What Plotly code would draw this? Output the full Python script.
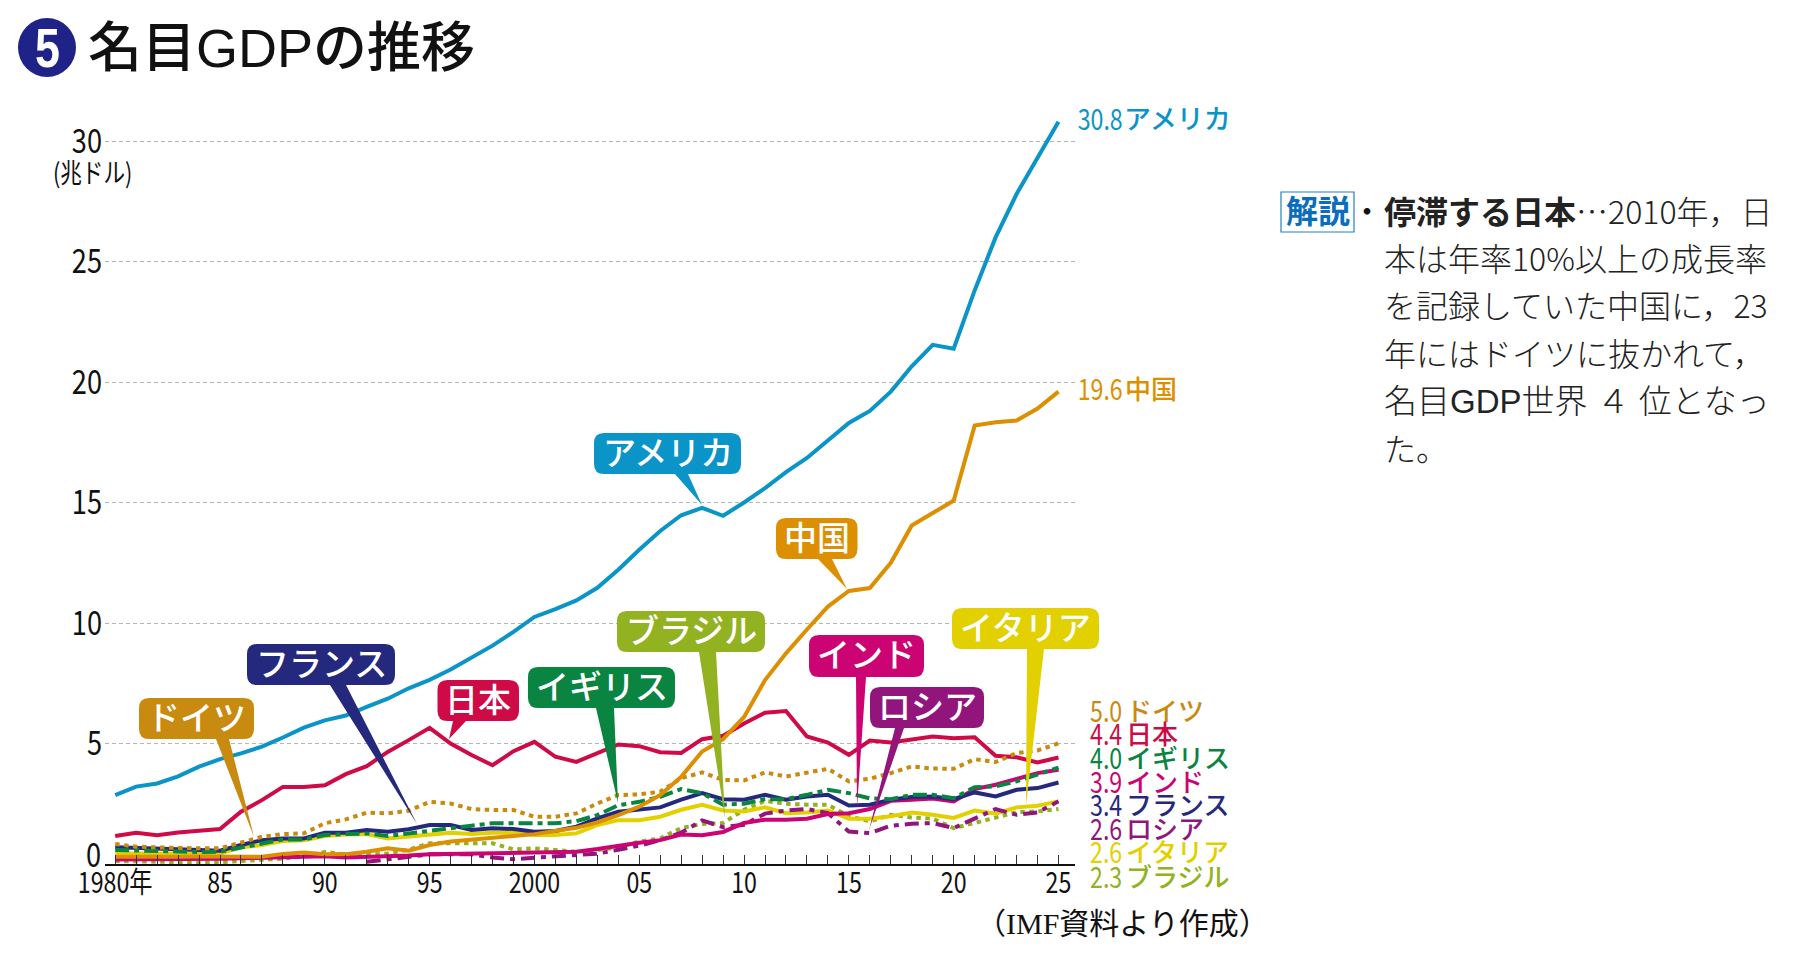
import plotly.graph_objects as go

W, H = 1804, 956
GOTHIC = "Noto Sans CJK JP"
LATIN_GOTHIC = "Liberation Sans, Noto Sans CJK JP"

years = list(range(1980, 2026))
major_labels = {1980: "1980年", 1985: "85", 1990: "90", 1995: "95", 2000: "2000", 2005: "05",
                2010: "10", 2015: "15", 2020: "20", 2025: "25"}
x_tick_labels = [major_labels.get(y, "") for y in years]
y_ticks = [5, 10, 15, 20, 25, 30]

usa = [2.86, 3.21, 3.34, 3.64, 4.04, 4.35, 4.59, 4.87, 5.25, 5.66,
       5.96, 6.16, 6.52, 6.86, 7.29, 7.64, 8.07, 8.58, 9.06, 9.63,
       10.25, 10.58, 10.94, 11.46, 12.21, 13.04, 13.82, 14.47, 14.78, 14.45,
       15.0, 15.6, 16.26, 16.85, 17.57, 18.3, 18.8, 19.6, 20.65, 21.54,
       21.38, 23.8, 26.0, 27.8, 29.3, 30.8]
china = [.30, .29, .29, .30, .31, .31, .28, .30, .42, .48,
         .40, .41, .51, .65, .55, .79, .93, 1.02, 1.09, 1.16,
         1.24, 1.38, 1.5, 1.73, 2.03, 2.38, 2.86, 3.62, 4.67, 5.18,
         6.1, 7.63, 8.74, 9.73, 10.68, 11.33, 11.45, 12.5, 14.05, 14.56,
         15.08, 18.19, 18.33, 18.4, 18.9, 19.6]
japan = [1.16, 1.30, 1.19, 1.31, 1.38, 1.45, 2.17, 2.65, 3.2, 3.2,
         3.27, 3.73, 4.06, 4.65, 5.14, 5.65, 5.0, 4.52, 4.10, 4.68,
         5.07, 4.45, 4.24, 4.59, 4.96, 4.89, 4.64, 4.61, 5.18, 5.32,
         5.83, 6.28, 6.35, 5.29, 5.04, 4.53, 5.12, 5.04, 5.18, 5.29,
         5.22, 5.26, 4.49, 4.43, 4.21, 4.42]
germany = [.83, .72, .69, .66, .65, .65, .88, 1.13, 1.24, 1.27,
           1.69, 1.85, 2.13, 2.1, 2.21, 2.58, 2.51, 2.28, 2.24, 2.24,
           1.96, 1.96, 2.1, 2.51, 2.86, 2.89, 3.0, 3.56, 3.8, 3.49,
           3.47, 3.8, 3.63, 3.77, 3.95, 3.43, 3.54, 3.77, 4.05, 3.96,
           3.95, 4.35, 4.23, 4.6, 4.71, 5.01]
uk = [.58, .55, .55, .52, .50, .51, .69, .88, 1.02, 1.02,
      1.2, 1.24, 1.27, 1.16, 1.27, 1.41, 1.48, 1.59, 1.69, 1.71,
      1.69, 1.69, 1.78, 2.03, 2.44, 2.58, 2.79, 3.11, 2.94, 2.46,
      2.5, 2.69, 2.69, 2.87, 3.08, 2.94, 2.72, 2.69, 2.87, 2.87,
      2.73, 3.19, 3.22, 3.43, 3.7, 4.0]
india = [.19, .19, .20, .20, .20, .22, .24, .27, .30, .30,
         .32, .27, .29, .30, .35, .40, .41, .44, .44, .47,
         .47, .47, .51, .62, .76, .88, .99, 1.22, 1.19, 1.33,
         1.70, 1.84, 1.84, 1.88, 2.07, 2.11, 2.28, 2.62, 2.67, 2.72,
         2.6, 3.11, 3.29, 3.54, 3.77, 3.91]
france = [.69, .65, .62, .61, .58, .55, .79, .99, 1.06, 1.06,
          1.30, 1.30, 1.41, 1.34, 1.44, 1.62, 1.62, 1.41, 1.48, 1.45,
          1.34, 1.37, 1.55, 1.89, 2.17, 2.28, 2.35, 2.67, 2.94, 2.69,
          2.67, 2.87, 2.67, 2.80, 2.87, 2.43, 2.46, 2.67, 2.78, 2.80,
          2.69, 2.97, 2.80, 3.08, 3.15, 3.38]
russia = [None] * 12 + [.09, .19, .30, .40, .40, .40, .27, .20,
          .26, .31, .35, .43, .59, .76, .99, 1.30, 1.81, 1.53,
          1.63, 2.09, 2.22, 2.28, 2.11, 1.35, 1.28, 1.59, 1.67, 1.70,
          1.49, 1.88, 2.28, 2.04, 2.14, 2.6]
italy = [.44, .43, .43, .44, .43, .44, .69, .79, .95, .99,
         1.16, 1.22, 1.24, 1.06, 1.15, 1.2, 1.3, 1.24, 1.3, 1.3,
         1.2, 1.2, 1.27, 1.62, 1.82, 1.82, 1.96, 2.25, 2.46, 2.22,
         2.18, 2.35, 2.11, 2.14, 2.22, 1.88, 1.88, 1.98, 2.14, 2.04,
         1.91, 2.22, 2.09, 2.35, 2.42, 2.6]
brazil = [.12, .10, .12, .06, .07, .08, .12, .16, .22, .32,
          .50, .40, .38, .44, .60, .86, .86, .88, .86, .61,
          .65, .58, .51, .58, .69, .93, 1.06, 1.49, 1.66, 1.70,
          2.25, 2.62, 2.5, 2.46, 2.46, 1.98, 1.77, 2.04, 1.93, 1.88,
          1.49, 1.70, 1.91, 2.15, 2.18, 2.28]

C = dict(usa="#0a94c8", china="#dc8f00", japan="#cf0b47", germany="#c98a10",
         uk="#0a8441", india="#cc0473", france="#25297e", russia="#92157c",
         italy="#e3d000", brazil="#92b222")

DOT = "4.5px,4.5px"
series = [
    ("ブラジル", brazil, C["brazil"], DOT),
    ("イタリア", italy, C["italy"], "solid"),
    ("ロシア", russia, C["russia"], "14px,6px,5px,6px"),
    ("インド", india, C["india"], "solid"),
    ("フランス", france, C["france"], "solid"),
    ("イギリス", uk, C["uk"], "14px,5px,5px,5px"),
    ("日本", japan, C["japan"], "solid"),
    ("ドイツ", germany, C["germany"], DOT),
    ("中国", china, C["china"], "solid"),
    ("アメリカ", usa, C["usa"], "solid"),
]

def px(x): return x / W
def py(y): return 1 - y / H

X_L, X_R, Y_B, Y_T = 105, 1075, 864, 92
YR_TOP = (Y_B - Y_T) / 24.1
XPX = (1058.5 - 115.2) / 45
XR = [1980 + (X_L - 115.2) / XPX, 2025 + (X_R - 1058.5) / XPX]

fig = go.Figure()
for name, vals, col, dash in series:
    fig.add_trace(go.Scatter(x=years, y=vals, mode="lines", name=name, showlegend=False,
                             hoverinfo="x+y+name", connectgaps=False,
                             line=dict(color=col, width=4, dash=dash)))

shapes = []
anns = []
DY = 3  # Noto's metrics sit low in an annotation box

def text(x, y, s, size, color="#111", family=GOTHIC, anchor="left", weight=None):
    f = dict(size=size, color=color, family=family)
    if weight:
        f["weight"] = weight
    anns.append(dict(x=px(x), y=py(y - DY), xref="paper", yref="paper", text=s, showarrow=False,
                     xanchor=anchor, yanchor="middle", font=f, borderpad=0, borderwidth=0))

def callout(label, col, l, r, t, b, b0, b1, tip, size=33):
    R = 10
    tx, ty = tip
    p = f"M{px(l+R)},{py(t)} L{px(r-R)},{py(t)} Q{px(r)},{py(t)} {px(r)},{py(t+R)} L{px(r)},{py(b-R)} Q{px(r)},{py(b)} {px(r-R)},{py(b)} "
    p += f"L{px(b1)},{py(b)} L{px(tx)},{py(ty)} L{px(b0)},{py(b)} "
    p += f"L{px(l+R)},{py(b)} Q{px(l)},{py(b)} {px(l)},{py(b-R)} L{px(l)},{py(t+R)} Q{px(l)},{py(t)} {px(l+R)},{py(t)} Z"
    shapes.append(dict(type="path", path=p, xref="paper", yref="paper", fillcolor=col,
                       line=dict(width=0), layer="above"))
    text((l + r) / 2, (t + b) / 2, label, size, "white", GOTHIC, "center", 500)

callouts = [
    ("アメリカ", C["usa"], 594, 741, 433, 474, 675, 688, (702, 505)),
    ("中国", C["china"], 776, 857.5, 518, 559, 818, 832, (847, 589)),
    ("ブラジル", C["brazil"], 617, 765, 611, 652, 699, 716, (725, 818)),
    ("イタリア", C["italy"], 952, 1099, 608, 649, 1027, 1044, (1026, 805)),
    ("インド", C["india"], 809, 924, 635, 677, 856, 866, (857, 808)),
    ("ロシア", C["russia"], 870, 984, 687, 728, 895, 904, (869, 830)),
    ("フランス", C["france"], 247, 395, 644, 685, 330, 346, (417, 824)),
    ("日本", C["japan"], 437.5, 519, 680, 721, 453, 466, (449, 739)),
    ("イギリス", C["uk"], 528, 675, 667, 708, 596, 614, (618, 803)),
    ("ドイツ", C["germany"], 139, 254, 698, 739, 216, 229, (254, 837)),
]
for c in callouts:
    callout(*c)

end_vals = [("5.0", "ドイツ", C["germany"], 712), ("4.4", "日本", C["japan"], 735),
            ("4.0", "イギリス", C["uk"], 759), ("3.9", "インド", C["india"], 783),
            ("3.4", "フランス", C["france"], 806), ("2.6", "ロシア", C["russia"], 830),
            ("2.6", "イタリア", C["italy"], 853), ("2.3", "ブラジル", C["brazil"], 878)]
for v, n, col, y in end_vals:
    text(1106, y, v, 29, col, GOTHIC, "center")
    text(1126, y, n, 26, col, GOTHIC, "left", 500)
text(1100, 120, "30.8", 29, C["usa"], GOTHIC, "center")
text(1124, 120, "アメリカ", 27, C["usa"], GOTHIC, "left", 500)
text(1100, 390, "19.6", 29, C["china"], GOTHIC, "center")
text(1125, 390, "中国", 26, C["china"], GOTHIC, "left", 500)

shapes.append(dict(type="circle", xref="paper", yref="paper", x0=px(18), x1=px(76), y0=py(77), y1=py(18),
                   fillcolor="#1f2388", line=dict(width=0)))
text(47, 50, "<b>5</b>", 56, "white", "Liberation Sans", "center")
text(88, 51, "名目GDPの推移", 54, "#111", LATIN_GOTHIC, "left", 500)

text(92, 175, "(兆ドル)", 27, "#111", GOTHIC, "center")
text(93, 855, "0", 34, "#111", GOTHIC, "center")
text(1122, 926, "（IMF資料より作成）", 30, "#111", "Liberation Serif, Noto Sans CJK JP", "center")

shapes.append(dict(type="rect", xref="paper", yref="paper", x0=px(1281), x1=px(1354), y0=py(232), y1=py(192),
                   fillcolor="white", line=dict(color="#2a7fc0", width=1.2)))
text(1317.5, 212, "<b>解説</b>", 32, "#0a6ebd", GOTHIC, "center")
text(1367, 212, "<b>・</b>", 26, "#111", GOTHIC, "center")
body = ["<b>停滞する日本</b>…2010年，日",
        "本は年率10%以上の成長率",
        "を記録していた中国に，23",
        "年にはドイツに抜かれて，",
        "名目GDP世界 ４ 位となっ",
        "た。"]
body_y = [213, 260, 307, 355, 404, 450]
for s, y in zip(body, body_y):
    text(1384, y, s, 33 if "GDP" in s else 32, "#222", LATIN_GOTHIC if "GDP" in s else GOTHIC, "left", 300)

fig.update_layout(
    width=W, height=H, margin=dict(l=0, r=0, t=0, b=0, autoexpand=False),
    paper_bgcolor="white", plot_bgcolor="white", showlegend=False,
    shapes=shapes, annotations=anns,
    xaxis=dict(domain=[px(X_L), px(X_R)], range=XR, tickmode="array", tickvals=years,
               ticktext=x_tick_labels, ticks="inside", ticklen=9, tickwidth=1, tickcolor="#333",
               showgrid=False, zeroline=False, showline=True, linecolor="#111", linewidth=1.5,
               tickangle=0, ticklabelstandoff=-8,
               tickfont=dict(family=GOTHIC, size=29, color="#111")),
    yaxis=dict(domain=[py(Y_B), py(Y_T)], range=[0, YR_TOP], tickmode="array", tickvals=y_ticks,
               ticktext=[str(v) for v in y_ticks], ticks="", showline=False, zeroline=False,
               showgrid=True, gridcolor="#b5b5b5", gridwidth=1, griddash="4px,3px",
               ticklabelstandoff=2,
               tickfont=dict(family=GOTHIC, size=34, color="#111")),
)

# The reference sets its numerals in a condensed face, which is not installed:
# squeeze those real text elements horizontally instead.
POST = r"""
document.body.style.margin='0';document.documentElement.style.overflow='hidden';
function squeeze(el,f){
  if(!el.textContent||el.hasAttribute('textLength'))return;
  var L=el.getComputedTextLength();
  el.setAttribute('lengthAdjust','spacingAndGlyphs');
  el.setAttribute('textLength',L*f);
}
function run(){
  document.querySelectorAll('.xtick text,.ytick text').forEach(function(el){squeeze(el,0.8);});
  document.querySelectorAll('.annotation-text').forEach(function(el){
    if(/^[0-9.]+$|兆/.test(el.textContent))squeeze(el,0.8);
  });
}
run();setTimeout(run,50);setTimeout(run,300);
"""
fig.write_html("out.html", post_script=POST, config={"displayModeBar": False})
